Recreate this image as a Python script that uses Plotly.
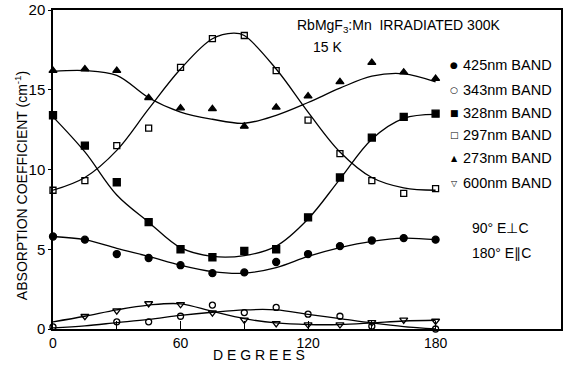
import plotly.graph_objects as go

# ---- data ----
ANGLES = [0, 15, 30, 45, 60, 75, 90, 105, 120, 135, 150, 165, 180]

PTS_425 = [5.8, 5.6, 4.7, 4.45, 4.0, 3.5, 3.55, 4.2, 4.7, 5.2, 5.55, 5.7, 5.6]
PTS_343 = [0.13, None, 0.45, 0.45, 0.8, 1.5, 1.03, 1.35, 0.93, 0.8, 0.18, -0.04, 0.0]
PTS_328 = [13.4, 11.5, 9.2, 6.7, 5.0, 4.5, 4.9, 5.0, 7.0, 9.5, 12.0, 13.3, 13.5]
PTS_297 = [8.7, 9.3, 11.5, 12.6, 16.4, 18.2, 18.4, 16.2, 13.1, 11.0, 9.3, 8.5, 8.8]
PTS_273 = [16.2, 16.3, 16.2, 14.5, 13.85, 13.8, 12.7, 13.9, 14.6, 15.5, 16.7, 16.1, 15.7]
PTS_600 = [None, 0.8, 1.15, 1.6, 1.55, 1.03, 0.57, 0.35, 0.28, 0.28, 0.41, 0.57, 0.5]

# smooth fitted curves
FIT_425 = [5.8, 5.6, 5.05, 4.55, 4.0, 3.6, 3.5, 3.85, 4.55, 5.1, 5.5, 5.7, 5.6]
FIT_343 = [0.07, 0.2, 0.4, 0.6, 0.85, 1.05, 1.2, 1.2, 0.92, 0.65, 0.38, 0.15, 0.0]
FIT_328 = [13.3, 11.1, 8.4, 6.7, 5.1, 4.55, 4.6, 5.2, 6.9, 9.4, 11.9, 13.2, 13.45]
FIT_297_X = [0, 15, 30, 45, 60, 75, 85, 90, 105, 120, 135, 150, 165, 180]
FIT_297 = [8.7, 9.5, 11.2, 13.8, 16.3, 18.2, 18.55, 18.4, 16.3, 13.6, 11.1, 9.5, 8.85, 8.7]
FIT_273 = [16.15, 16.2, 15.9, 14.5, 13.6, 13.15, 12.9, 13.4, 14.2, 15.1, 15.85, 16.0, 15.5]
FIT_600 = [0.45, 0.8, 1.2, 1.5, 1.58, 1.1, 0.65, 0.38, 0.28, 0.28, 0.38, 0.5, 0.55]

X_TICKS = [0, 60, 120, 180]
X_MINOR_TICKS = [30, 90, 150]
Y_TICKS = [0, 5, 10, 15, 20]

LEGEND_ROWS = [
    ("\u25CF", "425nm BAND", 9),
    ("\u25CB", "343nm BAND", 9),
    ("\u25A0", "328nm BAND", 9),
    ("\u25A1", "297nm BAND", 9),
    ("\u25B2", "273nm BAND", 8),
    ("\u25BD", "600nm BAND", 8),
]

FONT = "Liberation Sans, Arial, sans-serif"

fig = go.Figure()

fits = [
    (ANGLES, FIT_425), (ANGLES, FIT_343), (ANGLES, FIT_328),
    (FIT_297_X, FIT_297), (ANGLES, FIT_273), (ANGLES, FIT_600),
]
for xs, ys in fits:
    fig.add_trace(go.Scatter(x=xs, y=ys, mode="lines",
                             line=dict(color="black", width=1.3, shape="spline", smoothing=1.0),
                             hoverinfo="skip", showlegend=False, cliponaxis=False))

markers = [
    (PTS_425, "circle", 7),
    (PTS_343, "circle-open", 6),
    (PTS_328, "square", 7),
    (PTS_297, "square-open", 6),
    (PTS_273, "triangle-up", 7),
    (PTS_600, "triangle-down-open", 7),
]
for ys, sym, size in markers:
    fig.add_trace(go.Scatter(x=ANGLES, y=ys, mode="markers",
                             marker=dict(symbol=sym, size=size, color="black",
                                         line=dict(color="black", width=1.3)),
                             showlegend=False, cliponaxis=False))

L, R, T, B = 53, 563, 10, 329
def pxp(x):
    return (x - L) / (R - L)
def pyp(y):
    return (B - y) / (B - T)

ann = []
row_y = [65, 90, 113, 135, 158, 183]
for (glyph, label, gsize), yy in zip(LEGEND_ROWS, row_y):
    ann.append(dict(x=pxp(456), y=pyp(yy), xref="paper", yref="paper", text=glyph,
                    showarrow=False, xanchor="center", yanchor="middle",
                    font=dict(size=gsize, color="black", family="DejaVu Sans")))
    ann.append(dict(x=pxp(463), y=pyp(yy), xref="paper", yref="paper", text=label,
                    showarrow=False, xanchor="left", yanchor="middle",
                    font=dict(size=14.5, color="black", family=FONT)))

ann.append(dict(x=pxp(296), y=pyp(26), xref="paper", yref="paper",
                text="RbMgF<sub>3</sub>:Mn  IRRADIATED 300K", showarrow=False,
                xanchor="left", yanchor="middle", font=dict(size=14, color="black", family=FONT)))
ann.append(dict(x=pxp(312), y=pyp(47), xref="paper", yref="paper",
                text="15 K", showarrow=False,
                xanchor="left", yanchor="middle", font=dict(size=14, color="black", family=FONT)))
ann.append(dict(x=pxp(472), y=pyp(228), xref="paper", yref="paper",
                text="90\u00B0 E\u22A5C", showarrow=False,
                xanchor="left", yanchor="middle", font=dict(size=14, color="black", family=FONT)))
ann.append(dict(x=pxp(472), y=pyp(253), xref="paper", yref="paper",
                text="180\u00B0 E\u2225C", showarrow=False,
                xanchor="left", yanchor="middle", font=dict(size=14, color="black", family=FONT)))
ann.append(dict(x=pxp(21), y=pyp(186), xref="paper", yref="paper",
                text="ABSORPTION COEFFICIENT (cm<sup>-1</sup>)", showarrow=False, textangle=-90,
                xanchor="center", yanchor="middle", font=dict(size=14, color="black", family=FONT)))
ann.append(dict(x=pxp(260), y=pyp(355), xref="paper", yref="paper",
                text="D E G R E E S", showarrow=False,
                xanchor="center", yanchor="middle", font=dict(size=14, color="black", family=FONT)))

fig.update_layout(
    width=564, height=366,
    margin=dict(l=L, r=564 - R, t=T, b=366 - B),
    paper_bgcolor="white", plot_bgcolor="white",
    showlegend=False,
    annotations=ann,
    font=dict(family=FONT, color="black", size=14),
    xaxis=dict(range=[0, 239], tickvals=X_TICKS,
               ticks="inside", ticklen=8, tickwidth=1.2, tickcolor="black",
               minor=dict(tickvals=X_MINOR_TICKS, ticks="inside", ticklen=8,
                          tickwidth=1.2, tickcolor="black", showgrid=False),
               showline=True, linecolor="black", linewidth=1.5, mirror=True,
               showgrid=False, zeroline=False, tickfont=dict(size=14)),
    yaxis=dict(range=[0, 20], tickvals=Y_TICKS,
               ticks="outside", ticklen=3, tickwidth=1.2, tickcolor="black",
               showline=True, linecolor="black", linewidth=1.5, mirror=True,
               showgrid=False, zeroline=False, tickfont=dict(size=15)),
)

fig.write_html("out.html")
